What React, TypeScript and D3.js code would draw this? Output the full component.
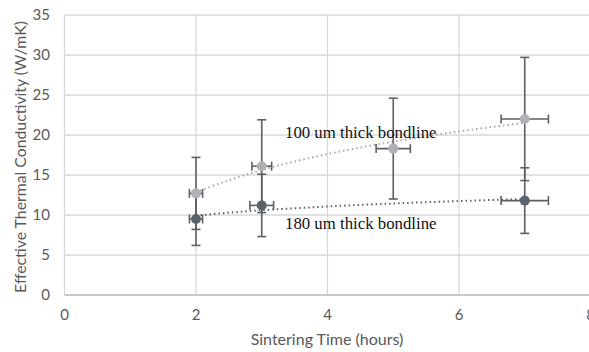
import React from "react";
import * as d3 from "d3";

const xTicks = [0, 2, 4, 6, 8];
const yTicks = [0, 5, 10, 15, 20, 25, 30, 35];

// 100 um thick bondline
const thinX = [2, 3, 5, 7];
const thinY = [12.7, 16.1, 18.3, 22.0];
const thinErrY = [4.5, 5.8, 6.3, 7.7];
const thinErrX = [0.1, 0.15, 0.26, 0.36];

// 180 um thick bondline
const thickX = [2, 3, 7];
const thickY = [9.5, 11.2, 11.8];
const thickErrY = [3.3, 3.9, 4.1];
const thickErrX = [0.1, 0.18, 0.36];

const seriesLabels = ["100 um thick bondline", "180 um thick bondline"];

const W = 589, H = 352;
const x = d3.scaleLinear().domain([0, 8]).range([64.5, 590.5]);
const y = d3.scaleLinear().domain([0, 35]).range([295, 15]);

function logFit(xs: number[], ys: number[]) {
  const lx = xs.map(Math.log);
  const mx = d3.mean(lx)!, my = d3.mean(ys)!;
  let sxy = 0, sxx = 0;
  lx.forEach((v, i) => { sxy += (v - mx) * (ys[i] - my); sxx += (v - mx) ** 2; });
  const b = sxy / sxx, a = my - b * mx;
  return (t: number) => a + b * Math.log(t);
}

function Series({ xs, ys, ex, ey, color, trend }: any) {
  const f = logFit(xs, ys);
  const samples = d3.range(0, 101).map(i => xs[0] + (xs[xs.length - 1] - xs[0]) * i / 100);
  const line = d3.line<number>().x(t => x(t)).y(t => y(f(t)));
  const cap = 4.5;
  const eb = "#5f5f5f";
  return (
    <g>
      <path d={line(samples)!} fill="none" stroke={trend} strokeWidth={2} strokeDasharray="1.5 3" />
      {xs.map((xv: number, i: number) => {
        const cx = x(xv), cy = y(ys[i]);
        const y1 = y(ys[i] + ey[i]), y2 = y(ys[i] - ey[i]);
        const x1 = x(xv - ex[i]), x2 = x(xv + ex[i]);
        return (
          <g key={i} stroke={eb} strokeWidth={1.6}>
            <line x1={cx} x2={cx} y1={y1} y2={y2} />
            <line x1={cx - cap} x2={cx + cap} y1={y1} y2={y1} />
            <line x1={cx - cap} x2={cx + cap} y1={y2} y2={y2} />
            <line x1={x1} x2={x2} y1={cy} y2={cy} />
            <line x1={x1} x2={x1} y1={cy - cap} y2={cy + cap} />
            <line x1={x2} x2={x2} y1={cy - cap} y2={cy + cap} />
          </g>
        );
      })}
      {xs.map((xv: number, i: number) => (
        <circle key={"c" + i} cx={x(xv)} cy={y(ys[i])} r={5} fill={color} />
      ))}
    </g>
  );
}

export default function App() {
  const font = "Lato, 'Open Sans', sans-serif";
  const serif = "'Liberation Serif', 'Times New Roman', serif";
  return (
    <svg width={W} height={H} style={{ position: "absolute", left: 0, top: 0 }}>
      <rect width={W} height={H} fill="#fff" />
      {yTicks.map(t => (
        <line key={"gy" + t} x1={x(0)} x2={W} y1={y(t)} y2={y(t)} stroke="#d9d9d9" strokeWidth={1.3} />
      ))}
      {xTicks.map(t => (
        <line key={"gx" + t} x1={x(t)} x2={x(t)} y1={y(35)} y2={y(0)} stroke="#d9d9d9" strokeWidth={1.3} />
      ))}
      <line x1={x(0)} x2={W} y1={y(0)} y2={y(0)} stroke="#bfbfbf" strokeWidth={1.3} />
      {yTicks.map(t => (
        <text key={"ty" + t} x={50} y={y(t)} dy="0.35em" textAnchor="end" fontFamily={font} fontSize={15} fill="#595959">{t}</text>
      ))}
      {xTicks.map(t => (
        <text key={"tx" + t} x={x(t)} y={315} dy="0.35em" textAnchor="middle" fontFamily={font} fontSize={15} fill="#595959">{t}</text>
      ))}
      <text x={327} y={345} textAnchor="middle" fontFamily={font} fontSize={16} fill="#595959">Sintering Time (hours)</text>
      <text transform="translate(26,157) rotate(-90)" textAnchor="middle" fontFamily={font} fontSize={15.8} fill="#595959">Effective Thermal Conductivity (W/mK)</text>
      <Series xs={thickX} ys={thickY} ex={thickErrX} ey={thickErrY} color="#5a6470" trend="#5a6470" />
      <Series xs={thinX} ys={thinY} ex={thinErrX} ey={thinErrY} color="#aeb2b6" trend="#a8a8a8" />
      <text x={285} y={138} fontFamily={serif} fontSize={16.8} fill="#111">{seriesLabels[0]}</text>
      <text x={285} y={229} fontFamily={serif} fontSize={16.8} fill="#111">{seriesLabels[1]}</text>
    </svg>
  );
}
